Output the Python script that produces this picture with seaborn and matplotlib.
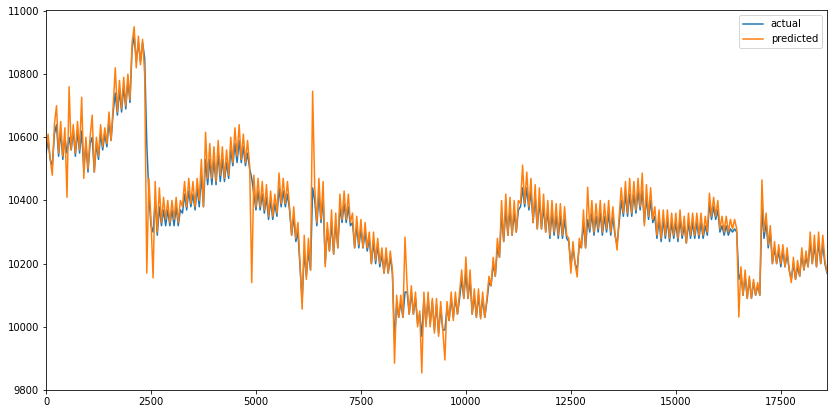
import numpy as np
import pandas as pd
import matplotlib
matplotlib.use("Agg")
import matplotlib.pyplot as plt
import seaborn as sns

# sampling step of the index (one value every 50 rows)
step = 50

predicted = [
    # 0 - 950
    10560, 10610, 10530, 10480, 10640, 10700, 10550, 10650, 10540, 10630,
    10410, 10760, 10560, 10640, 10550, 10650, 10560, 10727, 10470, 10600,
    # 1000 - 1950
    10500, 10600, 10670, 10490, 10600, 10540, 10640, 10570, 10630, 10580,
    10680, 10590, 10700, 10820, 10680, 10780, 10690, 10790, 10700, 10800,
    # 2000 - 2950
    10720, 10900, 10950, 10820, 10920, 10830, 10910, 10800, 10170, 10470,
    10340, 10155, 10460, 10300, 10440, 10330, 10410, 10340, 10400, 10330,
    # 3000 - 3950
    10400, 10340, 10410, 10330, 10400, 10380, 10460, 10380, 10470, 10390,
    10460, 10380, 10470, 10400, 10530, 10380, 10616, 10470, 10580, 10470,
    # 4000 - 4950
    10570, 10460, 10590, 10480, 10570, 10470, 10560, 10480, 10600, 10520,
    10630, 10540, 10640, 10530, 10610, 10520, 10590, 10510, 10140, 10480,
    # 5000 - 5950
    10380, 10470, 10380, 10460, 10370, 10450, 10350, 10430, 10350, 10420,
    10360, 10487, 10390, 10470, 10390, 10460, 10380, 10290, 10380, 10280,
    # 6000 - 6950
    10330, 10200, 10056, 10290, 10150, 10280, 10180, 10746, 10440, 10330,
    10470, 10340, 10460, 10190, 10330, 10240, 10370, 10230, 10360, 10250,
    # 7000 - 7950
    10420, 10340, 10430, 10340, 10420, 10330, 10360, 10250, 10350, 10260,
    10340, 10250, 10330, 10250, 10300, 10200, 10300, 10210, 10280, 10200,
    # 8000 - 8950
    10250, 10170, 10250, 10170, 10240, 10180, 9885, 10100, 10030, 10100,
    10030, 10284, 10130, 10040, 10130, 10040, 10110, 10000, 10050, 9854,
    # 9000 - 9950
    10110, 10000, 10110, 10000, 10090, 9980, 10090, 9970, 10080, 9990,
    9895, 10080, 10020, 10110, 10020, 10110, 10040, 10110, 10180, 10090,
    # 10000 - 10950
    10221, 10090, 10180, 10040, 10120, 10030, 10120, 10025, 10110, 10030,
    10090, 10160, 10130, 10220, 10160, 10280, 10220, 10400, 10270, 10420,
    # 11000 - 11950
    10290, 10410, 10290, 10400, 10300, 10400, 10390, 10512, 10390, 10490,
    10380, 10470, 10330, 10450, 10310, 10440, 10310, 10420, 10300, 10400,
    # 12000 - 12950
    10290, 10400, 10300, 10390, 10290, 10390, 10290, 10380, 10290, 10280,
    10170, 10270, 10200, 10158, 10280, 10250, 10370, 10250, 10442, 10310,
    # 13000 - 13950
    10400, 10300, 10390, 10310, 10400, 10300, 10390, 10310, 10400, 10300,
    10380, 10300, 10243, 10350, 10440, 10360, 10460, 10360, 10470, 10360,
    # 14000 - 14950
    10460, 10370, 10470, 10380, 10487, 10320, 10450, 10350, 10440, 10340,
    10380, 10290, 10370, 10280, 10370, 10290, 10370, 10280, 10360, 10290,
    # 15000 - 15950
    10360, 10280, 10370, 10290, 10350, 10265, 10360, 10290, 10360, 10290,
    10360, 10290, 10360, 10290, 10350, 10300, 10423, 10350, 10410, 10350,
    # 16000 - 16950
    10400, 10310, 10350, 10300, 10350, 10300, 10340, 10310, 10340, 10310,
    10031, 10190, 10100, 10180, 10090, 10160, 10090, 10150, 10100, 10140,
    # 17000 - 17950
    10100, 10465, 10300, 10360, 10260, 10320, 10200, 10270, 10200, 10260,
    10200, 10260, 10190, 10250, 10180, 10140, 10220, 10150, 10210, 10160,
    # 18000 - 18600
    10250, 10180, 10240, 10190, 10300, 10200, 10290, 10190, 10300, 10200,
    10290, 10210, 10173,
]

actual = [
    # 0 - 950
    10550, 10590, 10530, 10510, 10610, 10640, 10540, 10620, 10530, 10600,
    10550, 10600, 10560, 10620, 10540, 10620, 10550, 10620, 10500, 10580,
    # 1000 - 1950
    10490, 10580, 10600, 10490, 10580, 10530, 10610, 10560, 10610, 10570,
    10650, 10590, 10680, 10740, 10670, 10750, 10680, 10760, 10690, 10780,
    # 2000 - 2950
    10710, 10880, 10920, 10840, 10900, 10840, 10900, 10850, 10580, 10420,
    10320, 10300, 10400, 10290, 10380, 10320, 10370, 10320, 10370, 10320,
    # 3000 - 3950
    10370, 10320, 10380, 10320, 10370, 10360, 10420, 10370, 10430, 10380,
    10420, 10370, 10440, 10380, 10480, 10380, 10530, 10450, 10530, 10450,
    # 4000 - 4950
    10530, 10450, 10550, 10460, 10530, 10460, 10520, 10470, 10560, 10510,
    10580, 10520, 10590, 10520, 10570, 10510, 10550, 10500, 10470, 10420,
    # 5000 - 5950
    10370, 10430, 10370, 10420, 10360, 10410, 10340, 10400, 10340, 10390,
    10350, 10440, 10380, 10430, 10380, 10420, 10370, 10290, 10350, 10270,
    # 6000 - 6950
    10300, 10190, 10080, 10240, 10160, 10240, 10180, 10440, 10400, 10320,
    10420, 10330, 10410, 10200, 10310, 10240, 10330, 10230, 10330, 10250,
    # 7000 - 7950
    10380, 10330, 10390, 10330, 10380, 10320, 10330, 10250, 10320, 10250,
    10310, 10250, 10300, 10240, 10280, 10200, 10270, 10200, 10260, 10190,
    # 8000 - 8950
    10230, 10170, 10230, 10170, 10220, 10170, 9958, 10070, 10030, 10080,
    10030, 10110, 10110, 10040, 10110, 10040, 10090, 10010, 10040, 9970,
    # 9000 - 9950
    10090, 10010, 10090, 10010, 10080, 9990, 10070, 9980, 10060, 9990,
    9990, 10060, 10020, 10090, 10030, 10090, 10040, 10090, 10150, 10090,
    # 10000 - 10950
    10170, 10090, 10150, 10040, 10100, 10030, 10100, 10030, 10090, 10030,
    10080, 10140, 10130, 10200, 10160, 10250, 10220, 10360, 10270, 10370,
    # 11000 - 11950
    10290, 10370, 10290, 10360, 10300, 10370, 10380, 10440, 10380, 10440,
    10370, 10430, 10330, 10410, 10310, 10400, 10310, 10380, 10300, 10370,
    # 12000 - 12950
    10280, 10360, 10290, 10350, 10280, 10350, 10280, 10340, 10280, 10270,
    10190, 10250, 10200, 10180, 10260, 10250, 10330, 10250, 10340, 10300,
    # 13000 - 13950
    10360, 10290, 10350, 10300, 10360, 10290, 10350, 10300, 10360, 10290,
    10350, 10290, 10260, 10330, 10400, 10350, 10420, 10350, 10420, 10350,
    # 14000 - 14950
    10420, 10360, 10430, 10370, 10430, 10330, 10410, 10340, 10400, 10330,
    10350, 10280, 10340, 10270, 10340, 10280, 10340, 10270, 10330, 10280,
    # 15000 - 15950
    10330, 10270, 10340, 10280, 10320, 10265, 10330, 10280, 10330, 10280,
    10330, 10280, 10330, 10280, 10320, 10290, 10390, 10340, 10380, 10340,
    # 16000 - 16950
    10370, 10300, 10320, 10290, 10320, 10290, 10310, 10300, 10310, 10300,
    10150, 10170, 10100, 10160, 10090, 10150, 10090, 10140, 10100, 10130,
    # 17000 - 17950
    10100, 10380, 10280, 10330, 10250, 10300, 10200, 10250, 10200, 10240,
    10190, 10240, 10190, 10230, 10180, 10150, 10200, 10150, 10190, 10160,
    # 18000 - 18600
    10230, 10180, 10220, 10190, 10270, 10200, 10260, 10190, 10270, 10200,
    10260, 10200, 10170,
]

legend_labels = ["actual", "predicted"]
x_ticks = [0, 2500, 5000, 7500, 10000, 12500, 15000, 17500]
y_ticks = [9800, 10000, 10200, 10400, 10600, 10800, 11000]

df_a = pd.DataFrame({"idx": np.arange(len(actual)) * step, "value": actual})
df_p = pd.DataFrame({"idx": np.arange(len(predicted)) * step, "value": predicted})

fig = plt.figure(figsize=(837 / 72, 415 / 72), dpi=72)
fig.patch.set_facecolor("white")
ax = fig.add_axes([46 / 837, 25 / 415, 781 / 837, 380 / 415])

sns.lineplot(data=df_a, x="idx", y="value", ax=ax, color="#1f77b4",
             linewidth=1.5, label=legend_labels[0])
sns.lineplot(data=df_p, x="idx", y="value", ax=ax, color="#ff7f0e",
             linewidth=1.5, label=legend_labels[1])

ax.set_xlim(0, max(df_a["idx"].max(), df_p["idx"].max()))
ax.set_ylim(9800, 11003)
ax.set_xticks(x_ticks)
ax.set_yticks(y_ticks)
ax.set_xlabel("")
ax.set_ylabel("")
ax.tick_params(labelsize=10)
ax.legend(loc="upper right", fontsize=10)

fig.savefig("out.png", dpi=72, facecolor="white")
